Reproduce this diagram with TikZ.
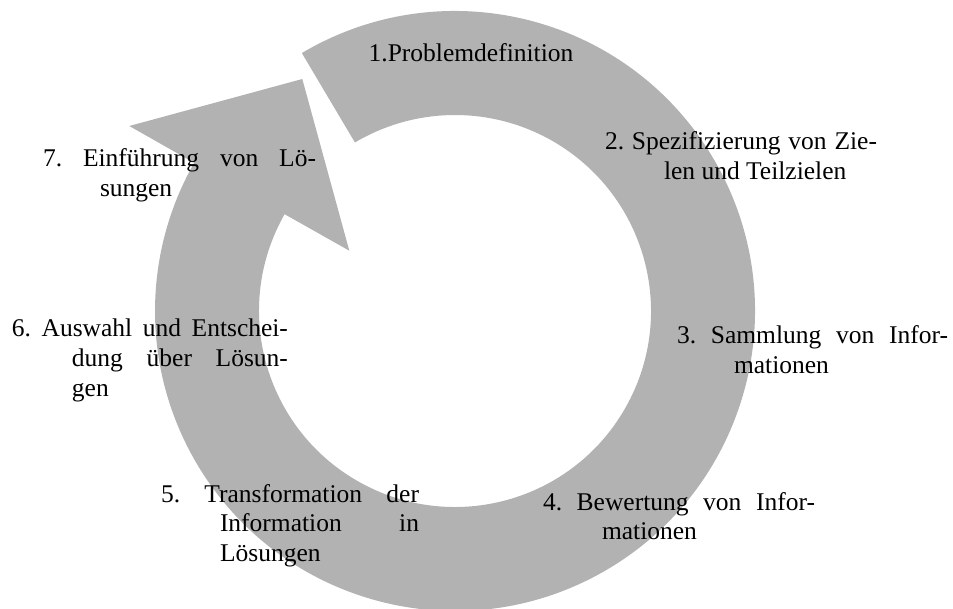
\documentclass[tikz,border=0pt]{standalone}
\usepackage{fontspec}
\setmainfont{Liberation Serif}
\usetikzlibrary{calc}
\definecolor{ringgray}{RGB}{178,178,178}
\tikzset{
  lbl/.style={anchor=base west, inner sep=0pt, outer sep=0pt, align=left,
    font=\fontsize{25.5}{30}\selectfont\frenchspacing},
  ringfill/.style={fill=ringgray, draw=none}
}
\newcommand{\jline}[2]{\makebox[#1pt][s]{#2}}
\newcommand{\ind}{\hspace*{59pt}}
\frenchspacing
\begin{document}
\begin{tikzpicture}[x=1pt,y=1pt]
\useasboundingbox (0,0) rectangle (953,608);
\coordinate (C) at (455,297);
\coordinate (tip) at (302.3,529);
\coordinate (wingL) at (129.3,482);
\coordinate (wingR) at (349.3,357.3);
% circular arrow
\path[ringfill] ($(C)+(120.7:300)$) arc[start angle=120.7, end angle=-209.6, radius=300]
  -- (wingL) -- (tip) -- (wingR)
  -- ($(C)+(150.4:196)$) arc[start angle=150.4, end angle=480.7, radius=196] -- cycle;
% labels
\node[lbl, anchor=base] (s1) at (471,546) {1.Problemdefinition};
\node[lbl] (s2) at (605,458) {\begin{tabular}[t]{@{}l@{}}\jline{272}{2. Spezifizierung von Zie-}\\ \ind len und Teilzielen\end{tabular}};
\node[lbl] (s3) at (677,264) {\begin{tabular}[t]{@{}l@{}}\jline{271}{3. Sammlung von Infor-}\\ \hspace*{57pt}mationen\end{tabular}};
\node[lbl] (s4) at (543,98) {\begin{tabular}[t]{@{}l@{}}\jline{272}{4. Bewertung von Infor-}\\ \ind mationen\end{tabular}};
\node[lbl] (s5) at (161,106) {\begin{tabular}[t]{@{}l@{}}\jline{258}{5. Transformation der}\\ \ind\jline{199}{Information in}\\ \ind Lösungen\end{tabular}};
\node[lbl] (s6) at (12,271) {\begin{tabular}[t]{@{}l@{}}\jline{276}{6. Auswahl und Entschei-}\\ \hspace*{60pt}\jline{216}{dung über Lösun-}\\ \hspace*{60pt}gen\end{tabular}};
\node[lbl] (s7) at (43,441) {\begin{tabular}[t]{@{}l@{}}\jline{273}{7. Einführung von Lö-}\\ \hspace*{57pt}sungen\end{tabular}};
\end{tikzpicture}
\end{document}
